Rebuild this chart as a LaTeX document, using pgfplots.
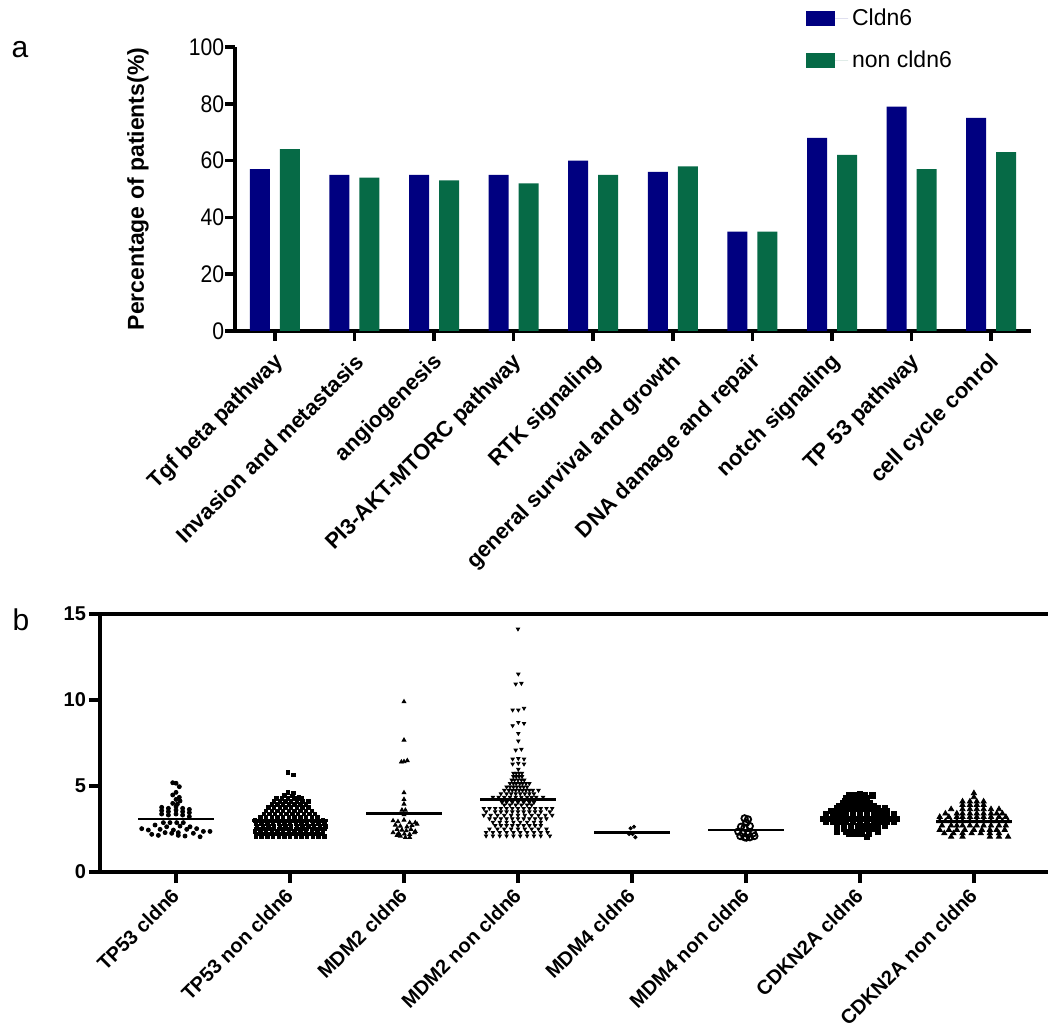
\documentclass[border=0pt]{standalone}
\usepackage{pgfplots}
\pgfplotsset{compat=1.18}
\usepackage{fontspec}
\setmainfont{Liberation Sans}
\definecolor{cblue}{RGB}{0,0,128}
\definecolor{cgreen}{RGB}{6,106,70}

\pgfplotstableread{
x y
-0.029 5.19
0.000 5.16
0.029 4.96
0.000 4.63
-0.029 4.48
0.029 4.34
0.000 4.22
0.035 4.13
-0.029 3.99
0.012 3.95
0.000 3.80
-0.126 3.76
-0.067 3.70
0.058 3.70
0.117 3.64
0.000 3.60
-0.126 3.57
-0.067 3.51
0.058 3.51
0.117 3.45
-0.126 3.37
0.000 3.37
-0.067 3.31
0.058 3.31
0.117 3.22
-0.111 2.87
-0.053 2.87
0.006 2.87
0.064 2.87
-0.184 2.73
0.035 2.67
-0.082 2.63
0.123 2.63
-0.301 2.52
0.181 2.52
-0.140 2.48
0.094 2.48
-0.243 2.44
-0.023 2.44
0.240 2.36
0.298 2.36
-0.096 2.29
0.020 2.29
-0.038 2.25
0.152 2.25
-0.213 2.19
-0.155 2.13
0.020 2.13
0.079 2.09
0.211 2.05
}\gA

\pgfplotstableread{
x y
0.982 5.80
1.029 5.64
0.982 4.62
1.029 4.60
0.95 4.45
1.02 4.42
1.08 4.35
0.88 4.28
0.93 4.28
0.98 4.28
1.04 4.28
1.10 4.28
0.86 4.10
0.91 4.10
0.96 4.10
1.01 4.10
1.06 4.10
1.11 4.10
1.16 4.10
0.84 3.92
0.89 3.92
0.94 3.92
0.99 3.92
1.04 3.92
1.09 3.92
1.14 3.92
0.81 3.75
0.86 3.75
0.91 3.75
0.96 3.75
1.01 3.75
1.06 3.75
1.11 3.75
1.16 3.75
0.79 3.55
0.84 3.55
0.89 3.55
0.94 3.55
0.99 3.55
1.04 3.55
1.09 3.55
1.14 3.55
1.19 3.55
0.77 3.37
0.82 3.37
0.87 3.37
0.92 3.37
0.97 3.37
1.02 3.37
1.07 3.37
1.12 3.37
1.17 3.37
1.22 3.37
0.74 3.18
0.79 3.18
0.84 3.18
0.89 3.18
0.94 3.18
0.99 3.18
1.04 3.18
1.09 3.18
1.14 3.18
1.19 3.18
1.24 3.18
0.69 3.00
0.74 3.00
0.79 3.00
0.84 3.00
0.89 3.00
0.94 3.00
0.99 3.00
1.04 3.00
1.09 3.00
1.14 3.00
1.19 3.00
1.24 3.00
1.29 3.00
0.70 2.83
0.75 2.83
0.80 2.83
0.85 2.83
0.90 2.83
0.95 2.83
1.00 2.83
1.05 2.83
1.10 2.83
1.15 2.83
1.20 2.83
1.25 2.83
1.30 2.83
0.71 2.66
0.76 2.66
0.81 2.66
0.86 2.66
0.91 2.66
0.96 2.66
1.01 2.66
1.06 2.66
1.11 2.66
1.16 2.66
1.21 2.66
1.26 2.66
1.31 2.66
0.70 2.50
0.75 2.50
0.80 2.50
0.85 2.50
0.90 2.50
0.95 2.50
1.00 2.50
1.05 2.50
1.10 2.50
1.15 2.50
1.20 2.50
1.25 2.50
1.30 2.50
0.69 2.35
0.74 2.35
0.79 2.35
0.84 2.35
0.89 2.35
0.94 2.35
0.99 2.35
1.04 2.35
1.09 2.35
1.14 2.35
1.19 2.35
1.24 2.35
1.29 2.35
0.72 2.20
0.77 2.20
0.82 2.20
0.87 2.20
0.92 2.20
0.97 2.20
1.02 2.20
1.07 2.20
1.12 2.20
1.17 2.20
1.22 2.20
1.27 2.20
0.70 2.06
0.75 2.06
0.80 2.06
0.85 2.06
0.90 2.06
0.95 2.06
1.00 2.06
1.05 2.06
1.10 2.06
1.15 2.06
1.20 2.06
1.25 2.06
1.30 2.06
}\gB

\pgfplotstableread{
x y
2.000 9.90
2.000 7.67
1.977 6.40
2.000 6.42
2.029 6.48
2.000 4.61
2.000 4.22
2.000 3.95
1.982 3.60
2.012 3.60
2.000 3.33
1.904 2.98
1.947 2.93
2.000 3.02
2.050 2.87
2.099 2.87
1.924 2.73
1.968 2.67
2.026 2.63
2.070 2.71
2.114 2.79
1.939 2.48
1.982 2.44
2.020 2.40
2.061 2.48
2.099 2.36
1.904 2.29
1.953 2.25
2.003 2.21
2.050 2.19
2.091 2.29
1.939 2.13
1.968 2.09
2.012 2.01
2.050 2.01
}\gC

\pgfplotstableread{
x y
3.000 14.13
3.003 11.51
2.980 10.93
3.030 10.97
2.953 9.42
3.003 9.42
3.053 9.52
2.953 8.51
3.003 8.70
3.053 8.64
3.003 8.06
3.003 7.62
2.980 7.09
3.030 7.14
2.953 6.57
3.003 6.60
3.053 6.57
2.953 6.28
3.003 6.32
3.053 6.28
3.003 5.97
2.960 5.75
2.985 5.75
3.010 5.75
3.035 5.75
2.960 5.55
2.985 5.55
3.010 5.55
3.035 5.55
2.945 5.35
2.970 5.35
3.000 5.35
3.030 5.35
3.055 5.35
2.930 5.15
2.960 5.15
2.985 5.15
3.015 5.15
3.040 5.15
3.070 5.15
3.100 5.15
2.900 4.95
2.930 4.95
2.960 4.95
2.990 4.95
3.020 4.95
3.050 4.95
3.080 4.95
2.880 4.75
2.920 4.75
2.950 4.75
2.980 4.75
3.010 4.75
3.040 4.75
3.070 4.75
3.100 4.75
3.130 4.75
3.180 4.75
2.850 4.55
2.900 4.55
2.940 4.55
2.980 4.55
3.020 4.55
3.060 4.55
3.100 4.55
3.140 4.55
2.780 4.35
2.830 4.35
2.880 4.35
2.930 4.35
2.980 4.35
3.030 4.35
3.080 4.35
3.120 4.35
3.160 4.35
3.220 4.35
2.860 4.05
2.900 4.05
2.950 4.05
3.000 4.05
3.050 4.05
3.100 4.05
3.140 4.05
2.880 3.90
2.930 3.90
2.980 3.90
3.030 3.90
3.080 3.90
3.120 3.90
2.700 3.70
2.750 3.70
2.800 3.70
2.850 3.70
2.900 3.70
2.950 3.70
3.000 3.70
3.050 3.70
3.100 3.70
3.150 3.70
3.200 3.70
3.250 3.70
3.300 3.70
2.720 3.50
2.800 3.50
2.850 3.50
2.900 3.50
2.950 3.50
3.000 3.50
3.050 3.50
3.100 3.50
3.150 3.50
3.200 3.50
3.280 3.50
2.700 3.30
2.760 3.30
2.820 3.30
2.880 3.30
2.940 3.30
3.000 3.30
3.060 3.30
3.120 3.30
3.180 3.30
3.240 3.30
3.300 3.30
2.750 3.10
2.800 3.10
2.850 3.10
2.900 3.10
2.950 3.10
3.000 3.10
3.050 3.10
3.100 3.10
3.150 3.10
3.200 3.10
3.250 3.10
2.780 2.90
2.840 2.90
2.900 2.90
2.960 2.90
3.020 2.90
3.080 2.90
3.140 2.90
3.200 2.90
2.800 2.70
2.850 2.70
2.900 2.70
2.950 2.70
3.000 2.70
3.050 2.70
3.100 2.70
3.150 2.70
3.200 2.70
2.750 2.50
2.820 2.50
2.880 2.50
2.940 2.50
3.000 2.50
3.060 2.50
3.120 2.50
3.180 2.50
3.250 2.50
2.720 2.30
2.780 2.30
2.840 2.30
2.900 2.30
2.960 2.30
3.020 2.30
3.080 2.30
3.140 2.30
3.200 2.30
3.260 2.30
2.720 2.10
2.780 2.10
2.840 2.10
2.900 2.10
2.960 2.10
3.020 2.10
3.080 2.10
3.140 2.10
3.200 2.10
3.280 2.10
}\gD

\pgfplotstableread{
x y
3.975 2.21
3.988 2.54
4.018 2.63
4.006 2.20
4.030 2.02
}\gE

\pgfplotstableread{
x y
4.988 3.12
5.018 3.06
5.003 2.87
4.957 2.63
5.034 2.67
4.988 2.58
4.933 2.35
4.972 2.25
5.018 2.21
5.064 2.25
4.951 2.09
4.988 2.02
5.034 2.02
5.074 2.09
5.003 2.00
}\gF

\pgfplotstableread{
x y
6.00 4.55
5.90 4.45
5.95 4.45
6.04 4.45
6.11 4.45
5.88 4.30
5.94 4.30
6.00 4.30
6.06 4.30
5.87 4.15
5.93 4.15
5.99 4.15
6.05 4.15
5.85 4.00
5.91 4.00
5.97 4.00
6.03 4.00
6.09 4.00
5.82 3.85
5.88 3.85
5.94 3.85
6.00 3.85
6.06 3.85
6.12 3.85
5.80 3.70
5.86 3.70
5.92 3.70
5.98 3.70
6.04 3.70
6.10 3.70
6.16 3.70
6.22 3.70
5.75 3.55
5.82 3.55
5.88 3.55
5.94 3.55
6.00 3.55
6.06 3.55
6.12 3.55
6.18 3.55
6.24 3.55
5.70 3.40
5.76 3.40
5.82 3.40
5.88 3.40
5.94 3.40
6.00 3.40
6.06 3.40
6.12 3.40
6.18 3.40
6.24 3.40
6.30 3.40
5.70 3.25
5.76 3.25
5.82 3.25
5.88 3.25
5.94 3.25
6.00 3.25
6.06 3.25
6.12 3.25
6.18 3.25
6.24 3.25
6.30 3.25
5.68 3.10
5.74 3.10
5.80 3.10
5.86 3.10
5.92 3.10
5.98 3.10
6.04 3.10
6.10 3.10
6.16 3.10
6.22 3.10
6.28 3.10
6.32 3.10
5.70 2.90
5.76 2.90
5.82 2.90
5.88 2.90
5.94 2.90
6.00 2.90
6.06 2.90
6.12 2.90
6.18 2.90
6.24 2.90
6.30 2.90
5.80 2.70
5.86 2.70
5.92 2.70
5.98 2.70
6.04 2.70
6.10 2.70
6.16 2.70
6.22 2.70
5.80 2.50
5.86 2.50
5.92 2.50
5.98 2.50
6.04 2.50
6.10 2.50
6.16 2.50
5.80 2.35
5.88 2.35
5.96 2.35
6.02 2.35
6.08 2.35
6.16 2.35
5.90 2.20
5.96 2.20
6.02 2.20
6.08 2.20
6.06 2.05
}\gG

\pgfplotstableread{
x y
7.000 4.58
7.000 4.35
6.900 4.10
6.965 4.10
7.025 4.10
7.085 4.10
6.900 3.90
6.965 3.90
7.025 3.90
7.085 3.90
6.800 3.65
6.900 3.65
6.965 3.65
7.025 3.65
7.085 3.65
7.150 3.65
7.220 3.65
6.750 3.40
6.850 3.40
6.900 3.40
6.965 3.40
7.025 3.40
7.085 3.40
7.150 3.40
7.200 3.40
7.250 3.40
6.700 3.20
6.780 3.20
6.850 3.20
6.900 3.20
6.965 3.20
7.025 3.20
7.085 3.20
7.150 3.20
7.220 3.20
7.280 3.20
6.700 2.95
6.750 2.95
6.800 2.95
6.850 2.95
6.900 2.95
6.965 2.95
7.025 2.95
7.085 2.95
7.150 2.95
7.200 2.95
7.250 2.95
7.300 2.95
6.720 2.70
6.800 2.70
6.850 2.70
6.900 2.70
6.965 2.70
7.025 2.70
7.085 2.70
7.150 2.70
7.220 2.70
7.280 2.70
6.700 2.45
6.780 2.45
6.850 2.45
6.920 2.45
7.000 2.45
7.070 2.45
7.140 2.45
7.200 2.45
7.270 2.45
6.740 2.25
6.820 2.25
6.900 2.25
6.980 2.25
7.060 2.25
7.140 2.25
7.220 2.25
6.800 2.05
6.900 2.05
7.140 2.05
7.220 2.05
7.300 2.05
}\gH

\begin{document}
\begin{tikzpicture}
\useasboundingbox (0,0) rectangle (524pt,516pt);
\node[font=\fontsize{15}{15}\selectfont] at (10pt,491pt) {a};
\node[font=\fontsize{15}{15}\selectfont] at (10.5pt,206pt) {b};

\begin{axis}[
  at={(117.5pt,350.5pt)}, anchor=south west,
  scale only axis, width=398pt, height=142pt,
  axis lines=left, axis line style={-, line width=1.8pt},
  xmin=-0.5, xmax=9.5, ymin=0, ymax=100,
  ytick={0,20,40,60,80,100}, yticklabels={0,20,40,60,80,100},
  xtick={0,1,2,3,4,5,6,7,8,9},
  xticklabels={Tgf beta pathway, Invasion and metastasis, angiogenesis, PI3-AKT-MTORC pathway, RTK signaling, general survival and growth, DNA damage and repair, notch signaling, TP 53 pathway, cell cycle conrol},
  tick align=outside, major tick length=5pt,
  tick style={line width=1.8pt, black},
  yticklabel style={font=\fontsize{12}{13}\selectfont, xscale=0.88, xshift=3pt},
  xticklabel style={font=\bfseries\fontsize{11}{12}\selectfont, rotate=45, anchor=east, yshift=-8pt, xshift=-1pt},
  ylabel={Percentage of patients(\%)},
  ylabel style={font=\bfseries\fontsize{11.5}{13}\selectfont, at={(axis description cs:-0.122,0.5)}, anchor=center},
  ybar=5pt, bar width=10pt,
  legend cell align=left,
  legend style={at={(axis description cs:0.717,1.15)}, anchor=north west, draw=none, fill=none, inner sep=0pt, row sep=7pt, font=\fontsize{11.5}{13}\selectfont},
  legend image code/.code={\draw[#1,draw=none] (0pt,-3.75pt) rectangle (14.5pt,3.75pt); \path (0pt,0pt) -- (21pt,0pt);},
]
\addplot[fill=cblue, draw=none] coordinates {(0,57) (1,55) (2,55) (3,55) (4,60) (5,56) (6,35) (7,68) (8,79) (9,75)};
\addplot[fill=cgreen, draw=none] coordinates {(0,64) (1,54) (2,53) (3,52) (4,55) (5,58) (6,35) (7,62) (8,57) (9,63)};
\legend{Cldn6, non cldn6}
\end{axis}

\begin{axis}[
  at={(50pt,80pt)}, anchor=south west,
  scale only axis, width=474pt, height=129pt,
  axis x line=box, axis y line=left, axis line style={-, line width=1.8pt},
  xmin=-0.667, xmax=7.65, ymin=0, ymax=15,
  ytick={0,5,10,15}, yticklabels={0,5,10,15},
  xtick={0,1,2,3,4,5,6,7},
  xticklabels={TP53 cldn6, TP53 non cldn6, MDM2 cldn6, MDM2 non cldn6, MDM4 cldn6, MDM4 non cldn6, CDKN2A cldn6, CDKN2A non cldn6},
  xtick pos=left, xticklabel pos=left,
  tick align=outside, major tick length=5.5pt,
  tick style={line width=1.8pt, black},
  yticklabel style={font=\bfseries\fontsize{10}{12}\selectfont, xshift=2pt},
  xticklabel style={font=\bfseries\fontsize{10}{12}\selectfont, rotate=45, anchor=east, yshift=-3pt},
]
\addplot[only marks, mark=*, mark size=1pt, black] table[x=x,y=y] {\gA};
\addplot[only marks, mark=square*, mark size=0.85pt, black] table[x=x,y=y] {\gB};
\addplot[only marks, mark=triangle*, mark size=1.1pt, black] table[x=x,y=y] {\gC};
\addplot[only marks, mark=triangle*, mark size=0.95pt, black, mark options={rotate=180}] table[x=x,y=y] {\gD};
\addplot[only marks, mark=*, mark size=0.8pt, black] table[x=x,y=y] {\gE};
\addplot[only marks, mark=o, mark size=1.6pt, black, mark options={line width=0.9pt}] table[x=x,y=y] {\gF};
\addplot[only marks, mark=square*, mark size=1.3pt, black] table[x=x,y=y] {\gG};
\addplot[only marks, mark=triangle*, mark size=1.5pt, black] table[x=x,y=y] {\gH};
\addplot[black, line width=1.3pt] coordinates {(-0.33,3.08) (0.33,3.08)};
\addplot[black, line width=1.3pt] coordinates {(0.67,2.98) (1.33,2.98)};
\addplot[black, line width=1.3pt] coordinates {(1.67,3.41) (2.33,3.41)};
\addplot[black, line width=1.3pt] coordinates {(2.67,4.22) (3.33,4.22)};
\addplot[black, line width=1.3pt] coordinates {(3.67,2.31) (4.33,2.31)};
\addplot[black, line width=1.3pt] coordinates {(4.67,2.44) (5.33,2.44)};
\addplot[black, line width=1.3pt] coordinates {(5.67,2.98) (6.33,2.98)};
\addplot[black, line width=1.3pt] coordinates {(6.67,2.93) (7.33,2.93)};
\end{axis}
\end{tikzpicture}
\end{document}
